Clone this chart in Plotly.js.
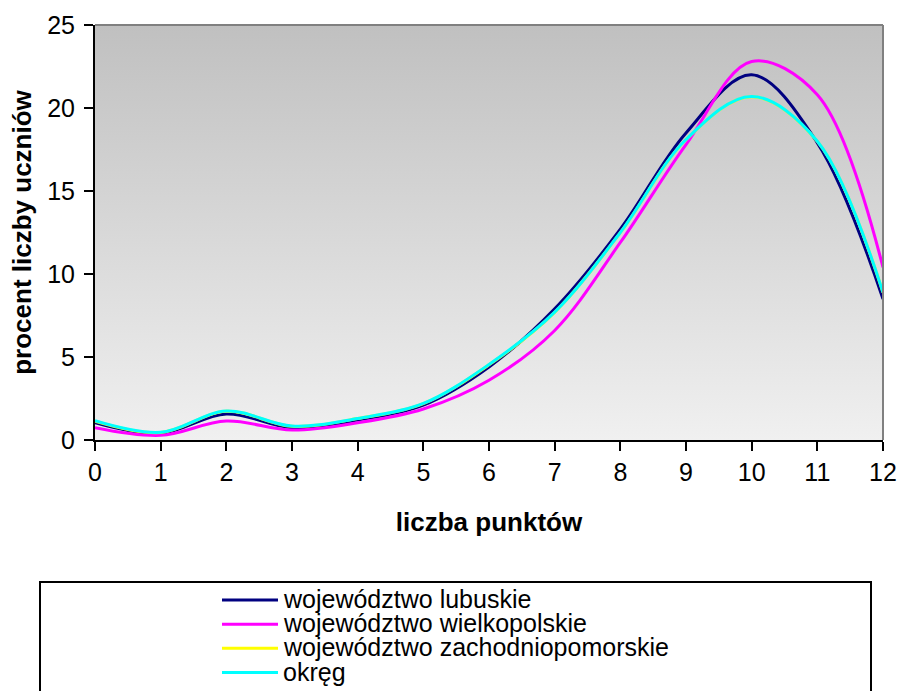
<!DOCTYPE html>
<html>
<head>
<meta charset="utf-8">
<script src="https://cdn.plot.ly/plotly-3.0.1.min.js"></script>
<style>html,body{margin:0;padding:0;background:#fff;}#chart{width:900px;height:691px;}</style>
</head>
<body>
<div id="chart"></div>
<script>
const points = [0, 1, 2, 3, 4, 5, 6, 7, 8, 9, 10, 11, 12];
const seriesNames = ["województwo lubuskie", "województwo wielkopolskie", "województwo zachodniopomorskie", "okręg"];
const lubuskie = [1.05, 0.4, 1.57, 0.74, 1.2, 2.1, 4.4, 7.9, 12.7, 18.5, 22.0, 17.9, 8.5];
const wielkopolskie = [0.74, 0.28, 1.14, 0.6, 1.04, 1.87, 3.6, 6.6, 11.9, 17.8, 22.8, 20.8, 10.4];
const zachodniopomorskie = [1.14, 0.45, 1.73, 0.83, 1.29, 2.19, 4.53, 7.69, 12.49, 18.09, 20.68, 17.99, 8.89];
const okreg = [1.16, 0.46, 1.75, 0.84, 1.3, 2.2, 4.55, 7.7, 12.5, 18.1, 20.7, 18.0, 8.9];
const colors = ["#000080", "#ff00ff", "#ffff00", "#00ffff"];
const yTicks = [0, 5, 10, 15, 20, 25];

const allSeries = [lubuskie, wielkopolskie, zachodniopomorskie, okreg];
const traces = allSeries.map((s, i) => ({
  x: points, y: s, name: seriesNames[i], type: "scatter", mode: "lines",
  line: {color: colors[i], width: 3, shape: "spline", smoothing: 1}
}));

const FONT = "Liberation Sans, Arial, sans-serif";
const grad = '<svg xmlns="http://www.w3.org/2000/svg" width="100" height="100" preserveAspectRatio="none"><defs><linearGradient id="g" x1="0" y1="0" x2="0" y2="1"><stop offset="0" stop-color="#c0c0c0"/><stop offset="1" stop-color="#f0f0f0"/></linearGradient></defs><rect width="100" height="100" fill="url(#g)"/></svg>';

// manual legend (Excel-style tight box)
const plotL = 95, plotW = 788, plotB = 440, plotH = 415;
const px2x = p => (p - plotL) / plotW;
const px2y = p => (plotB - p) / plotH;
const legendRows = [600, 624.3, 648.3, 672.6];
const legendShapes = [];
const legendAnnots = [];
seriesNames.forEach((n, i) => {
  legendShapes.push({type: "line", xref: "paper", yref: "paper",
    x0: px2x(222), x1: px2x(278), y0: px2y(legendRows[i]), y1: px2y(legendRows[i]),
    line: {color: colors[i], width: 3}});
  legendAnnots.push({xref: "paper", yref: "paper", x: px2x(281), y: px2y(legendRows[i] - 1),
    xanchor: "left", yanchor: "middle", text: n, showarrow: false,
    font: {family: FONT, size: 25, color: "#000"}});
});

const layout = {
  width: 900, height: 691,
  margin: {l: 95, r: 17, t: 25, b: 251},
  paper_bgcolor: "#ffffff",
  plot_bgcolor: "rgba(0,0,0,0)",
  font: {family: FONT, size: 25, color: "#000"},
  showlegend: false,
  xaxis: {
    range: [0, 12], tickvals: points, ticks: "outside", ticklen: 9, tickwidth: 2, tickcolor: "#000",
    showline: true, linecolor: "#000", linewidth: 2, showgrid: false, zeroline: false,
    tickfont: {family: FONT, size: 25},
    title: {text: "<b>liczba punktów</b>", font: {family: FONT, size: 26}, standoff: 28}
  },
  xaxis2: {
    range: [0, 12], tickvals: points, overlaying: "x", anchor: "y", side: "bottom",
    ticks: "inside", ticklen: 9, tickwidth: 2, tickcolor: "#000", showticklabels: false,
    showline: false, showgrid: false, zeroline: false
  },
  yaxis: {
    range: [0, 25], tickvals: yTicks, ticks: "outside", ticklen: 9, tickwidth: 2, tickcolor: "#000",
    showline: true, linecolor: "#000", linewidth: 2, showgrid: false, zeroline: false,
    tickfont: {family: FONT, size: 25}, ticklabelstandoff: 4,
    title: {text: "<b>procent liczby uczniów</b>", font: {family: FONT, size: 26}, standoff: 8}
  },
  yaxis2: {
    range: [0, 25], tickvals: yTicks, overlaying: "y", anchor: "x", side: "left",
    ticks: "inside", ticklen: 9, tickwidth: 2, tickcolor: "#000", showticklabels: false,
    showline: false, showgrid: false, zeroline: false
  },
  images: [{
    source: "data:image/svg+xml;charset=utf-8," + encodeURIComponent(grad),
    xref: "paper", yref: "paper", x: 0, y: 1, sizex: 1, sizey: 1,
    xanchor: "left", yanchor: "top", sizing: "stretch", layer: "below"
  }],
  annotations: legendAnnots,
  shapes: [
    {type: "line", xref: "paper", yref: "paper", x0: 0, x1: 1, y0: 1, y1: 1, line: {color: "#808080", width: 2}},
    {type: "line", xref: "paper", yref: "paper", x0: 1, x1: 1, y0: 0, y1: 1, line: {color: "#808080", width: 2}},
    {type: "rect", xref: "paper", yref: "paper", x0: px2x(40), x1: px2x(871), y0: px2y(582), y1: px2y(700), line: {color: "#000", width: 2}, fillcolor: "rgba(0,0,0,0)"}
  ].concat(legendShapes)
};

Plotly.newPlot("chart", traces, layout, {displayModeBar: false, staticPlot: true});
</script>
</body>
</html>
